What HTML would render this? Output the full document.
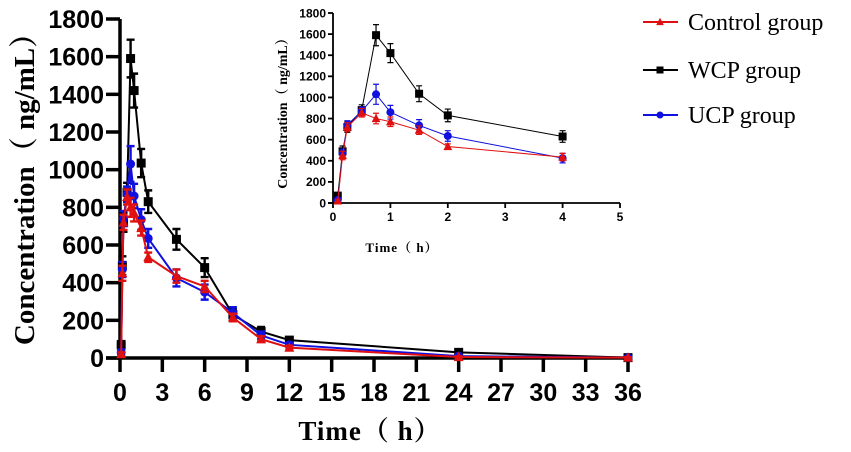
<!DOCTYPE html>
<html><head><meta charset="utf-8"><style>
body{margin:0;background:#fff}
svg{display:block}
</style></head><body>
<svg id="chart" width="851" height="452" xmlns="http://www.w3.org/2000/svg"></svg>
<script>
const times=[0.083,0.167,0.25,0.5,0.75,1,1.5,2,4,6,8,10,12,24,36];
const wcpVals=[70,490,720,880,1590,1420,1035,830,630,480,230,140,95,30,2];
const wcpErr=[20,50,50,50,100,90,75,60,55,50,30,25,15,8,2];
const ucpVals=[30,470,740,870,1030,860,735,635,425,350,240,120,70,10,2];
const ucpErr=[15,40,40,40,95,65,55,50,45,40,30,20,12,5,2];
const ctrlVals=[20,450,720,855,800,770,690,535,435,380,215,100,55,5,2];
const ctrlErr=[10,40,40,40,50,45,40,25,35,30,20,15,10,4,2];
const mainXTicks=[0,3,6,9,12,15,18,21,24,27,30,33,36];
const yTicks=[0,200,400,600,800,1000,1200,1400,1600,1800];
const insetXTicks=[0,1,2,3,4,5];
const groups=["Control group","WCP group","UCP group"];

const NS="http://www.w3.org/2000/svg";
const svg=document.getElementById('chart');
function el(tag,attrs,parent){const e=document.createElementNS(NS,tag);for(const k in attrs)e.setAttribute(k,attrs[k]);(parent||svg).appendChild(e);return e;}

const series=[
 {name:'wcp',vals:wcpVals,err:wcpErr,color:'#000',marker:'square'},
 {name:'ucp',vals:ucpVals,err:ucpErr,color:'#1010e0',marker:'circle'},
 {name:'control',vals:ctrlVals,err:ctrlErr,color:'#e01010',marker:'triangle'}
];

function marker(g,type,x,y,color,s){
 let m;
 if(type==='square')m=el('rect',{x:x-s,y:y-s,width:2*s,height:2*s,fill:color},g);
 else if(type==='circle')m=el('circle',{cx:x,cy:y,r:s,fill:color},g);
 else m=el('polygon',{points:`${x},${y-s*1.2} ${x-s*1.1},${y+s*0.9} ${x+s*1.1},${y+s*0.9}`,fill:color},g);
 return m;
}

function drawPanel(cfg){
 const g=el('g',{});
 
 
 const xs=v=>cfg.x0+(v-cfg.xmin)/(cfg.xmax-cfg.xmin)*(cfg.x1-cfg.x0);
 const ys=v=>cfg.y0-(v/1800)*(cfg.y0-cfg.y1);
 const ya=el('line',{x1:cfg.x0,y1:cfg.y0,x2:cfg.x0,y2:cfg.y1,stroke:'#000','stroke-width':cfg.aw},g);
 
 const xa=el('line',{x1:cfg.x0-cfg.tl,y1:cfg.y0,x2:cfg.x1,y2:cfg.y0,stroke:'#000','stroke-width':cfg.aw},g);
 
 yTicks.forEach(t=>{
  const y=ys(t);
  el('line',{x1:cfg.x0-cfg.tl,y1:y,x2:cfg.x0,y2:y,stroke:'#000','stroke-width':cfg.aw},g);
  const tx=el('text',{x:cfg.x0-cfg.tl-2,y:y+cfg.fs*0.36,'font-size':cfg.fs,'font-weight':'bold','font-family':'Liberation Sans, sans-serif','text-anchor':'end'},g);
  tx.textContent=t;
  
 });
 cfg.xticks.forEach(t=>{
  const x=xs(t);
  el('line',{x1:x,y1:cfg.y0,x2:x,y2:cfg.y0+cfg.tl,stroke:'#000','stroke-width':cfg.aw},g);
  const tx=el('text',{x:x,y:cfg.y0+cfg.tl+cfg.fs*cfg.xoff,'font-size':cfg.fs,'font-weight':'bold','font-family':'Liberation Sans, sans-serif','text-anchor':'middle'},g);
  tx.textContent=t;
  
 });
 series.forEach(s=>{
  const sg=el('g',{},g);
  
  const pts=[];
  times.forEach((t,i)=>{if(t<=cfg.xmax)pts.push([xs(t),ys(s.vals[i]),i]);});
  const pl=el('polyline',{points:pts.map(p=>p[0]+','+p[1]).join(' '),fill:'none',stroke:s.color,'stroke-width':cfg.lw},sg);
  
  pts.forEach(p=>{
   const i=p[2],x=p[0];
   const yt=ys(s.vals[i]+s.err[i]),yb=ys(Math.max(0,s.vals[i]-s.err[i]));
   const eb=el('path',{d:`M${x},${yt}V${yb}M${x-cfg.cap},${yt}H${x+cfg.cap}M${x-cfg.cap},${yb}H${x+cfg.cap}`,stroke:s.color,'stroke-width':cfg.lw*1.2,fill:'none'},sg);
   
   const m=marker(sg,s.marker,x,p[1],s.color,cfg.ms);
   
  });
 });
 const xl=el('text',{x:cfg.xlx,y:cfg.xly,'font-size':cfg.lfs,'font-weight':'bold','font-family':'Liberation Serif, Noto Serif CJK SC, serif','text-anchor':'middle','letter-spacing':'1'},g);
 xl.textContent='Time（ h）';
 
 const yl=el('text',{x:0,y:0,'font-size':cfg.ylfs,'font-weight':'bold','font-family':'Liberation Serif, Noto Serif CJK SC, serif','text-anchor':'middle',transform:`translate(${cfg.ylx},${cfg.yly}) rotate(-90)`},g);
 yl.textContent='Concentration（ ng/mL）';
 
}

drawPanel({name:'main-plot',x0:120,x1:628,y0:358,y1:19,xmin:0,xmax:36,xticks:mainXTicks,aw:3.5,tl:14,fs:25,xoff:1.15,lw:2,cap:4,ms:4.5,lfs:27,ylfs:29,xlx:370,xly:440,ylx:34,yly:182});
drawPanel({name:'inset-plot',x0:333,x1:620,y0:203,y1:13,xmin:0,xmax:5,xticks:insetXTicks,aw:1.8,tl:5,fs:12,xoff:1.1,lw:1,cap:3,ms:4,lfs:13,ylfs:14,xlx:402,xly:252,ylx:287,yly:110});

const legend=el('g',{});

const legendSeries=[series[2],series[0],series[1]];
[22,70,115].forEach((y,i)=>{
 const s=legendSeries[i];
 const eg=el('g',{},legend);
 
 el('line',{x1:643,y1:y,x2:678,y2:y,stroke:s.color,'stroke-width':2},eg);
 marker(eg,s.marker,660,y,s.color,3.5);
 const t=el('text',{x:688,y:y+8,'font-size':24,'font-family':'Liberation Serif, serif'},eg);
 t.textContent=groups[i];
});
</script>
</body></html>
